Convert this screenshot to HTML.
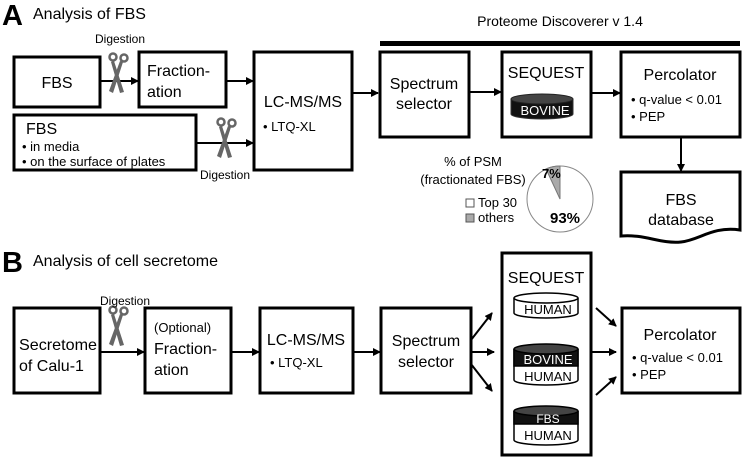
<!DOCTYPE html>
<html><head><meta charset="utf-8"><style>
body{margin:0;background:#fff;width:742px;height:459px;overflow:hidden}
svg{font-family:"Liberation Sans",Arial,sans-serif}
</style></head><body>
<svg width="742" height="459" viewBox="0 0 742 459" xmlns="http://www.w3.org/2000/svg">
<defs>
<marker id="ah" markerWidth="8" markerHeight="8" refX="7" refY="4" orient="auto" markerUnits="userSpaceOnUse"><path d="M0,0 L8,4 L0,8 z" fill="#000"/></marker>
<g id="sc">
<circle cx="-5" cy="-15" r="3.5" fill="none" stroke="#666" stroke-width="2.5"/>
<circle cx="6" cy="-14" r="3.5" fill="none" stroke="#666" stroke-width="2.5"/>
<path d="M-4,-11 L6,20 L2,21 L-7,-10z" fill="#666"/>
<path d="M5,-10 L-5,21 L-9,19 L2,-11z" fill="#666"/>
</g>
</defs>
<g fill="none" stroke="#000" stroke-width="3">
<rect x="14" y="57" width="86" height="50"/>
<rect x="139" y="52" width="87" height="55"/>
<rect x="14" y="115" width="182" height="55"/>
<rect x="254" y="52" width="98" height="118"/>
<rect x="380" y="52" width="89" height="85"/>
<rect x="502" y="52" width="89" height="85"/>
<rect x="621" y="52" width="119" height="85"/>
<path d="M621,172 H740 V230 C712,226 700,240 681,242 C660,244 645,234 621,236 Z"/>
<rect x="14" y="308" width="86" height="85"/>
<rect x="145" y="308" width="86" height="85"/>
<rect x="260" y="308" width="93" height="85"/>
<rect x="381" y="308" width="90" height="85"/>
<rect x="502" y="253" width="89" height="202"/>
<rect x="622" y="308" width="118" height="85"/>
</g>
<rect x="380" y="41" width="360" height="5" fill="#000"/>
<g stroke="#000" stroke-width="2" marker-end="url(#ah)">
<line x1="100" y1="81" x2="138" y2="81"/>
<line x1="226" y1="81" x2="253" y2="81"/>
<line x1="196" y1="143" x2="253" y2="143"/>
<line x1="352" y1="93" x2="378" y2="93"/>
<line x1="469" y1="92" x2="501" y2="92"/>
<line x1="591" y1="93" x2="620" y2="93"/>
<line x1="681" y1="137" x2="681" y2="171"/>
<line x1="100" y1="352" x2="144" y2="352"/>
<line x1="231" y1="352" x2="259" y2="352"/>
<line x1="353" y1="352" x2="380" y2="352"/>
<line x1="471" y1="340" x2="492" y2="313"/>
<line x1="471" y1="352" x2="494" y2="352"/>
<line x1="471" y1="364" x2="492" y2="391"/>
<line x1="596" y1="308" x2="616" y2="326"/>
<line x1="591" y1="352" x2="616" y2="352"/>
<line x1="596" y1="395" x2="616" y2="377"/>
</g>
<use href="#sc" x="118" y="72"/>
<use href="#sc" x="226" y="137"/>
<use href="#sc" x="118" y="325"/>
<text x="2" y="25" font-size="29" font-weight="bold">A</text>
<text x="33" y="19" font-size="16">Analysis of FBS</text>
<text x="2" y="272" font-size="29" font-weight="bold">B</text>
<text x="33" y="266" font-size="16">Analysis of cell secretome</text>
<g font-size="12">
<text x="95" y="43">Digestion</text>
<text x="200" y="179">Digestion</text>
<text x="100" y="305">Digestion</text>
</g>
<text x="560" y="26" font-size="14" text-anchor="middle">Proteome Discoverer v 1.4</text>
<g font-size="16" text-anchor="middle">
<text x="57" y="88">FBS</text>
<text x="303" y="107">LC-MS/MS</text>
<text x="424" y="89">Spectrum</text>
<text x="424" y="109">selector</text>
<text x="546" y="78">SEQUEST</text>
<text x="680" y="80">Percolator</text>
<text x="681" y="205">FBS</text>
<text x="681" y="225">database</text>
<text x="306" y="345">LC-MS/MS</text>
<text x="426" y="346">Spectrum</text>
<text x="426" y="367">selector</text>
<text x="546" y="283">SEQUEST</text>
<text x="680" y="340">Percolator</text>
</g>
<g font-size="16">
<text x="147" y="76">Fraction-</text>
<text x="147" y="97">ation</text>
<text x="26" y="134">FBS</text>
<text x="19" y="350" textLength="78" lengthAdjust="spacingAndGlyphs">Secretome</text>
<text x="19" y="371">of Calu-1</text>
<text x="154" y="354">Fraction-</text>
<text x="154" y="375">ation</text>
</g>
<g font-size="13">
<text x="22" y="151">• in media</text>
<text x="22" y="166">• on the surface of plates</text>
<text x="263" y="131">• LTQ-XL</text>
<text x="270" y="367">• LTQ-XL</text>
<text x="631" y="104">• q-value &lt; 0.01</text>
<text x="631" y="121">• PEP</text>
<text x="632" y="362">• q-value &lt; 0.01</text>
<text x="632" y="379">• PEP</text>
<text x="154" y="332">(Optional)</text>
</g>
<text x="473" y="166" font-size="13" text-anchor="middle">% of PSM</text>
<text x="473" y="184" font-size="13" text-anchor="middle">(fractionated FBS)</text>
<rect x="466" y="199" width="8" height="8" fill="#fff" stroke="#555"/>
<text x="478" y="207" font-size="13">Top 30</text>
<rect x="466" y="214" width="8" height="8" fill="#aaa" stroke="#555"/>
<text x="478" y="222" font-size="13">others</text>
<circle cx="560" cy="199" r="33" fill="#fff" stroke="#888" stroke-width="1"/>
<path d="M560,199 L560,166 A33,33 0 0 0 546,169 Z" fill="#aaa" stroke="#777"/>
<text x="542" y="178" font-size="13" font-weight="bold">7%</text>
<text x="550" y="223" font-size="15" font-weight="bold">93%</text>
<g>
<path d="M511,99 V114 A31,5 0 0 0 573,114 V99" fill="#111" stroke="#333"/>
<ellipse cx="542" cy="99" rx="31" ry="5" fill="#444" stroke="#222"/>
<text x="545" y="115" font-size="13" fill="#fff" text-anchor="middle">BOVINE</text>
</g>
<g stroke="#000" stroke-width="1.5">
<path d="M514,298 V313 A32,5 0 0 0 578,313 V298" fill="#fff"/>
<ellipse cx="546" cy="298" rx="32" ry="5" fill="#fff"/>
<path d="M514,349 V380 A32,5 0 0 0 578,380 V349" fill="#fff"/>
<path d="M514,349 V366 H578 V349" fill="#111"/>
<ellipse cx="546" cy="349" rx="32" ry="5" fill="#444"/>
<path d="M514,411 V440 A32,5 0 0 0 578,440 V411" fill="#fff"/>
<path d="M514,411 V424 H578 V411" fill="#111"/>
<ellipse cx="546" cy="411" rx="32" ry="5" fill="#444"/>
</g>
<g font-size="13" text-anchor="middle">
<text x="548" y="314">HUMAN</text>
<text x="548" y="364" fill="#fff">BOVINE</text>
<text x="548" y="381">HUMAN</text>
<text x="548" y="423" fill="#fff" font-size="12">FBS</text>
<text x="548" y="440">HUMAN</text>
</g>
</svg>
</body></html>
